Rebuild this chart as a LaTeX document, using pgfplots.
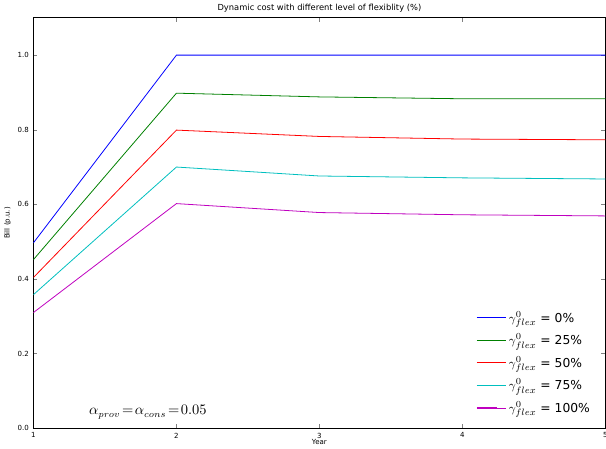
\documentclass[border=0pt]{standalone}
\usepackage{fontspec}
\setmainfont{DejaVu Sans}
\usepackage{pgfplots}
\pgfplotsset{compat=1.18}
\definecolor{mplgreen}{rgb}{0,0.5,0}
\definecolor{mplcyan}{rgb}{0,0.75,0.75}
\definecolor{mplmagenta}{rgb}{0.75,0,0.75}
\begin{document}
\begin{tikzpicture}
\begin{axis}[
scale only axis,width=432pt,height=310pt,
xmin=1,xmax=5,ymin=0,ymax=1.1,
xtick={1,2,3,4,5},xticklabels={1,2,3,4,\makebox[0pt][c]{5}},
xticklabel style={inner xsep=0pt},
ytick={0,0.2,0.4,0.6,0.8,1.0},
yticklabel style={/pgf/number format/.cd,fixed,fixed zerofill,precision=1},
/pgf/number format/assume math mode=true,
ticklabel style={font=\fontsize{5.3}{6}\selectfont},
tick align=inside,major tick length=3pt,
title={Dynamic cost with different level of flexiblity (\%)},
title style={font=\fontsize{6.3}{7}\selectfont,yshift=-5.5pt},
xlabel={Year},ylabel={Bill (p.u.)},
label style={font=\fontsize{5.3}{6}\selectfont},
xlabel style={yshift=6pt},ylabel style={yshift=-2pt},
axis line style={line width=0.8pt},
every axis plot/.append style={line width=0.6pt},
legend style={draw=none,fill=none,at={(0.985,0.02)},anchor=south east,
  font=\fontsize{9.3}{11}\selectfont,row sep=3.2pt},
legend cell align=left,
legend image code/.code={\draw[#1,line width=0.9pt] (0pt,0pt) -- (15pt,0pt); \path (0pt,0pt) -- (22pt,0pt);},
]
\addplot[color=blue] coordinates {(1,0.497) (2,1.0) (3,1.0) (4,1.0) (5,1.0)};
\addlegendentry{$\gamma^{0}_{flex}$ = 0\%}
\addplot[color=mplgreen] coordinates {(1,0.452) (2,0.898) (3,0.888) (4,0.883) (5,0.883)};
\addlegendentry{$\gamma^{0}_{flex}$ = 25\%}
\addplot[color=red] coordinates {(1,0.404) (2,0.799) (3,0.782) (4,0.775) (5,0.773)};
\addlegendentry{$\gamma^{0}_{flex}$ = 50\%}
\addplot[color=mplcyan] coordinates {(1,0.358) (2,0.700) (3,0.676) (4,0.671) (5,0.668)};
\addlegendentry{$\gamma^{0}_{flex}$ = 75\%}
\addplot[color=mplmagenta] coordinates {(1,0.310) (2,0.602) (3,0.578) (4,0.572) (5,0.569)};
\addlegendentry{$\gamma^{0}_{flex}$ = 100\%}
\node[font=\fontsize{10.5}{12}\selectfont] at (axis cs:1.8,0.043) {$\alpha_{prov}\!=\!\alpha_{cons}\!=\!0.05$};
\end{axis}
\end{tikzpicture}
\end{document}
